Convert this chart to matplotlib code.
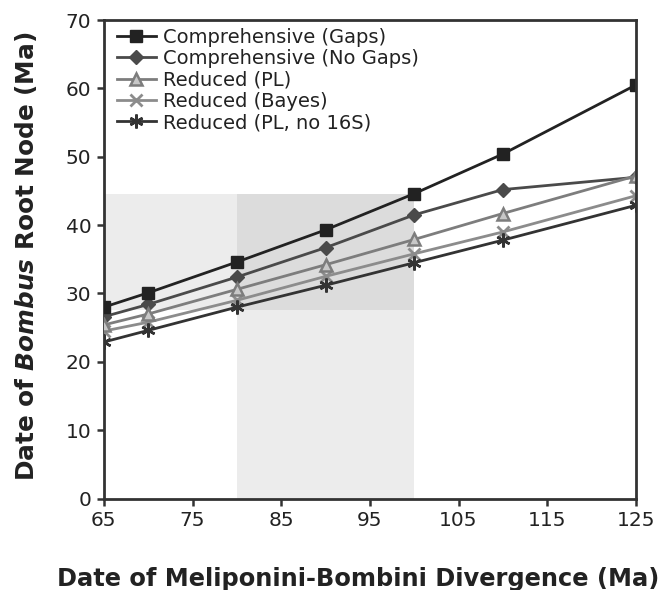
import matplotlib
matplotlib.use("Agg")
import matplotlib.pyplot as plt
from matplotlib.patches import Rectangle

plt.rcParams['font.family'] = ['DejaVu Sans']
plt.rcParams['mathtext.fontset'] = 'custom'
plt.rcParams['mathtext.it'] = 'DejaVu Sans:bold:italic'
plt.rcParams['mathtext.rm'] = 'DejaVu Sans:bold'

x_vals = [65, 70, 80, 90, 100, 110, 125]
comp_gaps = [28.0, 30.1, 34.6, 39.3, 44.6, 50.4, 60.5]
comp_nogaps = [26.6, 28.4, 32.4, 36.7, 41.5, 45.2, 47.0]
red_pl = [25.4, 27.0, 30.6, 34.2, 37.9, 41.7, 47.2]
red_bayes = [24.5, 25.8, 29.0, 32.5, 35.8, 39.0, 44.3]
red_pl_no16s = [22.9, 24.6, 28.0, 31.2, 34.5, 37.8, 42.9]

labels = ["Comprehensive (Gaps)", "Comprehensive (No Gaps)", "Reduced (PL)",
          "Reduced (Bayes)", "Reduced (PL, no 16S)"]

# shaded ranges
band_x = (65, 100)
band_y = (27.6, 44.6)
vband_x = (80, 100)
vband_y = (0, 44.6)

fig = plt.figure(figsize=(6.7, 5.9), dpi=100)
ax = fig.add_axes([0.155, 0.155, 0.794, 0.811])

ax.add_patch(Rectangle((band_x[0], band_y[0]), band_x[1]-band_x[0], band_y[1]-band_y[0],
                       facecolor='#ececec', edgecolor='none', zorder=0))
ax.add_patch(Rectangle((vband_x[0], vband_y[0]), vband_x[1]-vband_x[0], vband_y[1]-vband_y[0],
                       facecolor='#ececec', edgecolor='none', zorder=0))
ax.add_patch(Rectangle((vband_x[0], band_y[0]), vband_x[1]-vband_x[0], band_y[1]-band_y[0],
                       facecolor='#dcdcdc', edgecolor='none', zorder=0))

lw = 2.0
ax.plot(x_vals, comp_gaps, color='#222222', lw=lw, marker='s', ms=8, mfc='#222222', mec='#222222', label=labels[0], zorder=5)
ax.plot(x_vals, comp_nogaps, color='#4a4a4a', lw=lw, marker='D', ms=7.5, mfc='#4a4a4a', mec='#4a4a4a', label=labels[1], zorder=4)
ax.plot(x_vals, red_pl, color='#7d7d7d', lw=lw, marker='^', ms=9, mfc='#c8c8c8', mec='#7d7d7d', mew=1.8, label=labels[2], zorder=6)
ax.plot(x_vals, red_bayes, color='#8c8c8c', lw=lw, marker='x', ms=9, mec='#8c8c8c', mew=2.0, label=labels[3], zorder=3)
ax.plot(x_vals, red_pl_no16s, color='#333333', lw=lw, marker=(6, 2, 0), ms=10, mec='#333333', mew=1.8, label=labels[4], zorder=3)

ax.set_xlim(65, 125)
ax.set_ylim(0, 70)
ax.set_xticks([65, 75, 85, 95, 105, 115, 125])
ax.set_yticks(range(0, 71, 10))
ax.tick_params(direction='out', length=5, width=1.8, color='#333333', labelsize=14.5, labelcolor='#222222', pad=4)
for s in ax.spines.values():
    s.set_linewidth(2.0)
    s.set_color('#333333')
for s in ['top', 'right']:
    ax.spines[s].set_zorder(7)

fig.text(358/670, 1 - 579/590, "Date of Meliponini-Bombini Divergence (Ma)", fontsize=17.4,
         fontweight='bold', color='#222222', ha='center', va='center')
fig.text(26/670, 1 - 256/590, r"Date of $\it{Bombus}$ Root Node (Ma)", fontsize=17.8,
         fontweight='bold', color='#222222', ha='center', va='center', rotation=90)

leg = ax.legend(loc='upper left', bbox_to_anchor=(0.0094, 1.0), frameon=False, fontsize=14,
                handlelength=2.0, handletextpad=0.4, labelspacing=0.12, borderaxespad=0.0,
                labelcolor='#222222')

fig.savefig("out.png", dpi=100)
